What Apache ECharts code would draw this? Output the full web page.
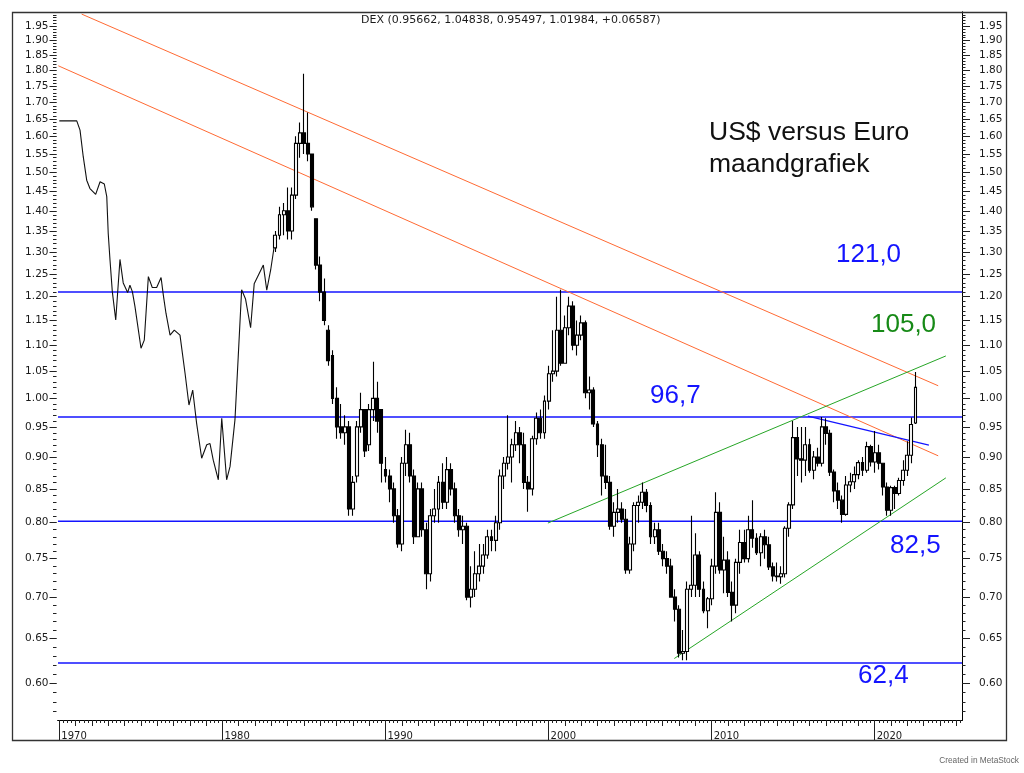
<!DOCTYPE html>
<html>
<head>
<meta charset="utf-8">
<title>DEX kwartaal</title>
<script src="https://cdn.jsdelivr.net/npm/echarts@6/dist/echarts.min.js"></script>
<style>
  html, body { margin: 0; padding: 0; background: #fff; }
  #chart { width: 1024px; height: 773px; }
</style>
</head>
<body>
<div id="chart"></div>
<script>
(function () {
  var myChart = echarts.init(document.getElementById("chart"));

  // slotkoers-lijn tot 1983
  const lineYears = [
    1970.0, 1971.07, 1971.27, 1971.47, 1971.68, 1971.88, 1972.23, 1972.5, 1972.76, 1972.91,
    1973.0, 1973.11, 1973.25, 1973.46, 1973.72, 1973.92, 1974.19, 1974.33, 1974.48, 1974.64,
    1975.01, 1975.21, 1975.46, 1975.7, 1975.97, 1976.24, 1976.38, 1976.54, 1976.79, 1977.05,
    1977.4, 1977.71, 1977.95, 1978.18, 1978.42, 1978.73, 1979.04, 1979.24, 1979.44, 1979.75,
    1979.96, 1980.06, 1980.26, 1980.47, 1980.77, 1980.97, 1981.18, 1981.42, 1981.73, 1981.95,
    1982.51, 1982.72, 1982.96, 1983.16,
  ];
  const lineValues = [
    1.645, 1.645, 1.618, 1.542, 1.479, 1.457, 1.442, 1.475, 1.469, 1.436,
    1.344, 1.281, 1.211, 1.151, 1.283, 1.23, 1.209, 1.225, 1.211, 1.179,
    1.094, 1.11, 1.244, 1.22, 1.22, 1.242, 1.203, 1.165, 1.12, 1.13,
    1.12, 1.046, 0.988, 1.015, 0.956, 0.898, 0.92, 0.922, 0.895, 0.864,
    0.965, 0.965, 0.864, 0.885, 0.962, 1.077, 1.215, 1.195, 1.135, 1.228,
    1.27, 1.214, 1.259, 1.309,
  ];

  // kwartaalcandles vanaf 1983 Q2: [open, close, low, high]
  const candleStart = 1983.25;
  const candles = [
    [1.31,1.34,1.30,1.35],[1.34,1.39,1.33,1.41],[1.39,1.40,1.34,1.42],
    [1.40,1.35,1.33,1.46],[1.35,1.44,1.33,1.46],[1.44,1.58,1.43,1.60],[1.58,1.61,1.54,1.64],
    [1.61,1.58,1.55,1.79],[1.58,1.55,1.53,1.67],[1.55,1.41,1.40,1.55],[1.38,1.27,1.26,1.38],
    [1.27,1.21,1.19,1.29],[1.21,1.15,1.14,1.24],[1.13,1.07,1.06,1.14],[1.08,1.00,0.99,1.09],
    [1.00,0.95,0.93,1.02],[0.95,0.94,0.93,0.99],[0.94,0.95,0.92,0.97],[0.95,0.82,0.81,0.96],
    [0.82,0.86,0.81,0.87],[0.87,0.95,0.86,0.96],[0.95,0.98,0.94,1.01],[0.98,0.91,0.90,0.98],
    [0.92,0.98,0.91,0.99],[0.98,1.00,0.96,1.068],[1.00,0.96,0.94,1.03],[0.98,0.89,0.86,0.98],
    [0.88,0.87,0.86,0.90],[0.87,0.85,0.83,0.88],[0.85,0.81,0.80,0.86],[0.81,0.77,0.765,0.82],
    [0.77,0.89,0.76,0.90],[0.89,0.92,0.87,0.945],[0.92,0.87,0.86,0.94],[0.87,0.78,0.77,0.88],
    [0.78,0.85,0.78,0.86],[0.85,0.79,0.78,0.86],[0.79,0.73,0.71,0.80],[0.73,0.81,0.72,0.82],
    [0.81,0.82,0.80,0.85],[0.82,0.86,0.80,0.87],[0.86,0.83,0.82,0.89],[0.83,0.88,0.82,0.90],
    [0.88,0.85,0.84,0.89],[0.85,0.81,0.80,0.86],[0.81,0.79,0.78,0.82],[0.79,0.795,0.77,0.81],
    [0.795,0.70,0.696,0.80],[0.70,0.71,0.687,0.74],[0.71,0.73,0.70,0.76],[0.73,0.74,0.72,0.77],
    [0.74,0.755,0.73,0.77],[0.755,0.78,0.75,0.79],[0.78,0.775,0.76,0.79],[0.775,0.80,0.76,0.81],
    [0.80,0.87,0.79,0.88],[0.87,0.89,0.85,0.90],[0.89,0.90,0.88,0.97],[0.90,0.92,0.86,0.93],
    [0.92,0.94,0.91,0.96],[0.94,0.92,0.89,0.95],[0.92,0.86,0.85,0.94],[0.86,0.85,0.816,0.87],
    [0.85,0.93,0.84,0.935],[0.93,0.965,0.92,0.975],[0.965,0.94,0.93,0.98],[0.94,0.995,0.93,1.005],
    [0.995,1.045,0.98,1.06],[1.045,1.05,1.03,1.13],[1.05,1.13,1.04,1.20],[1.13,1.065,1.06,1.215],
    [1.065,1.135,1.065,1.16],[1.135,1.18,1.12,1.20],[1.18,1.10,1.09,1.19],[1.10,1.12,1.08,1.15],
    [1.12,1.145,1.11,1.16],[1.145,1.01,1.00,1.15],[1.01,1.015,0.98,1.04],[1.015,0.955,0.95,1.02],
    [0.955,0.92,0.90,0.96],[0.92,0.87,0.84,0.93],[0.87,0.86,0.85,0.92],[0.86,0.795,0.79,0.87],
    [0.795,0.815,0.78,0.83],[0.815,0.82,0.80,0.85],[0.82,0.805,0.80,0.83],[0.805,0.735,0.73,0.82],
    [0.735,0.77,0.73,0.78],[0.77,0.825,0.76,0.83],[0.825,0.83,0.80,0.84],[0.83,0.845,0.82,0.86],
    [0.845,0.825,0.815,0.85],[0.825,0.78,0.77,0.83],[0.78,0.79,0.77,0.80],[0.79,0.76,0.755,0.80],
    [0.76,0.75,0.74,0.77],[0.75,0.74,0.73,0.76],[0.74,0.70,0.70,0.75],[0.70,0.685,0.67,0.71],
    [0.685,0.633,0.628,0.69],[0.633,0.635,0.625,0.66],[0.635,0.71,0.625,0.72],[0.71,0.715,0.70,0.81],
    [0.715,0.755,0.70,0.785],[0.755,0.71,0.70,0.76],[0.71,0.683,0.68,0.72],[0.683,0.698,0.662,0.70],
    [0.698,0.74,0.69,0.75],[0.74,0.815,0.73,0.845],[0.815,0.735,0.73,0.83],[0.735,0.748,0.705,0.78],
    [0.748,0.706,0.70,0.76],[0.706,0.69,0.67,0.72],[0.69,0.745,0.68,0.75],[0.745,0.772,0.73,0.79],
    [0.772,0.75,0.745,0.79],[0.75,0.79,0.745,0.81],[0.79,0.778,0.765,0.833],[0.778,0.758,0.755,0.785],
    [0.758,0.78,0.74,0.785],[0.78,0.769,0.75,0.79],[0.769,0.739,0.735,0.78],[0.739,0.727,0.72,0.745],
    [0.727,0.726,0.72,0.745],[0.726,0.73,0.717,0.74],[0.73,0.792,0.725,0.795],[0.792,0.826,0.78,0.83],
    [0.826,0.932,0.82,0.96],[0.932,0.897,0.87,0.95],[0.897,0.895,0.86,0.95],[0.895,0.92,0.87,0.95],
    [0.92,0.879,0.875,0.93],[0.879,0.90,0.865,0.91],[0.90,0.89,0.885,0.915],[0.89,0.95,0.885,0.967],
    [0.95,0.939,0.92,0.965],[0.939,0.876,0.87,0.945],[0.876,0.847,0.83,0.88],[0.847,0.833,0.82,0.86],
    [0.833,0.812,0.80,0.84],[0.812,0.856,0.81,0.87],[0.856,0.861,0.845,0.875],[0.861,0.872,0.85,0.885],
    [0.872,0.891,0.865,0.895],[0.891,0.879,0.87,0.90],[0.879,0.917,0.875,0.925],[0.917,0.892,0.885,0.92],
    [0.892,0.907,0.875,0.943],[0.907,0.89,0.88,0.92],[0.89,0.853,0.84,0.89],[0.853,0.818,0.81,0.86],
    [0.818,0.852,0.81,0.855],[0.852,0.843,0.82,0.855],[0.843,0.863,0.84,0.867],[0.863,0.879,0.855,0.895],
    [0.879,0.903,0.87,0.926],[0.903,0.954,0.89,0.966],[0.95662,1.01984,0.95497,1.04838],
  ];

  // horizontale niveaus
  const levels = [1.21, 0.967, 0.802, 0.622];

  // trendlijnen: [[jaar, koers], [jaar, koers]]
  const orangeLines = [
    [[1971.37, 1.9925], [2023.89, 1.0228]],
    [[1969.94, 1.816], [2023.89, 0.902]],
  ];
  const greenLines = [
    [[1999.96, 0.7995], [2024.36, 1.079]],
    [[2007.71, 0.627], [2024.36, 0.867]],
  ];
  const blueTrend = [[2015.9, 0.9687], [2023.32, 0.9196]];

  // as-labels
  const yMajor = [0.60, 0.65, 0.70, 0.75, 0.80, 0.85, 0.90, 0.95, 1.00, 1.05, 1.10, 1.15,
    1.20, 1.25, 1.30, 1.35, 1.40, 1.45, 1.50, 1.55, 1.60, 1.65, 1.70, 1.75, 1.80, 1.85, 1.90, 1.95];
  const xDecades = [1970, 1980, 1990, 2000, 2010, 2020];

  const xMin = 1969.92;
  const xMax = 2025.35;
  const yMin = 0.5615;
  const yMax = 2.0;

  const yMinor = [];
  for (let i = 57; i <= 199; i++) yMinor.push(i / 100);
  const xYears = [];
  for (let y = 1970; y <= 2025; y++) xYears.push(y);
  const xQuarters = [];
  for (let q = 1970 * 4; q <= 2025 * 4 + 1; q++) xQuarters.push(q / 4);

  const smallFont = "DejaVu Sans";
  const bigFont = "Liberation Sans, Arial, sans-serif";
  const levelBlue = "#1414ff";
  const orange = "#ff6a33";
  const green = "#26a626";

  function yAxisDef(pos, ticks, len, labels, margin, showLine) {
    return {
      type: "log",
      logBase: 10,
      min: yMin,
      max: yMax,
      position: pos,
      offset: pos === "left" ? 1.5 : 0,
      splitLine: { show: false },
      axisLine: { show: showLine, lineStyle: { color: "#000", width: 1 } },
      axisTick: {
        show: true,
        customValues: ticks,
        length: len,
        lineStyle: { color: "#222", width: 1 },
      },
      axisLabel: {
        show: !!labels,
        customValues: labels || undefined,
        margin: margin,
        fontFamily: smallFont,
        fontSize: 10.5,
        color: "#1a1a1a",
        formatter: (v) => v.toFixed(2),
      },
    };
  }

  function xAxisDef(ticks, len, labels) {
    return {
      type: "value",
      min: xMin,
      max: xMax,
      position: "bottom",
      splitLine: { show: false },
      axisLine: { show: true, onZero: false, lineStyle: { color: "#000", width: 1 } },
      axisTick: {
        show: true,
        customValues: ticks,
        length: len,
        lineStyle: { color: "#222", width: 1 },
      },
      axisLabel: {
        show: !!labels,
        customValues: labels || undefined,
        margin: 11,
        align: "left",
        padding: [0, 0, 0, 2],
        fontFamily: smallFont,
        fontSize: 10,
        color: "#1a1a1a",
        formatter: (v) => String(Math.round(v)),
      },
    };
  }

  const candleData = candles.map((c, i) => [candleStart + i * 0.25, c[0], c[1], c[2], c[3]]);
  const lineData = lineYears.map((y, i) => [y, lineValues[i]]);

  const series = [];
  levels.forEach((v) => {
    series.push({
      type: "line",
      data: [[xMin, v], [xMax, v]],
      showSymbol: false,
      silent: true,
      lineStyle: { color: levelBlue, width: 1.5 },
      z: 2,
    });
  });
  orangeLines.forEach((l) => {
    series.push({
      type: "line",
      data: l,
      showSymbol: false,
      silent: true,
      lineStyle: { color: orange, width: 1 },
      z: 3,
    });
  });
  greenLines.forEach((l) => {
    series.push({
      type: "line",
      data: l,
      showSymbol: false,
      silent: true,
      lineStyle: { color: green, width: 1 },
      z: 3,
    });
  });
  series.push({
    type: "line",
    data: blueTrend,
    showSymbol: false,
    silent: true,
    lineStyle: { color: levelBlue, width: 1.2 },
    z: 3,
  });
  series.push({
    type: "line",
    data: lineData,
    showSymbol: false,
    lineStyle: { color: "#111", width: 1.1 },
    z: 4,
  });
  series.push({
    type: "candlestick",
    data: candleData,
    encode: { x: 0, y: [1, 2, 3, 4] },
    barWidth: 3.4,
    itemStyle: {
      color: "#fff",
      color0: "#000",
      borderColor: "#000",
      borderColor0: "#000",
      borderWidth: 1.1,
    },
    z: 5,
  });

  function label(text, x, yMid, color, size) {
    return {
      type: "text",
      x: x,
      y: yMid,
      silent: true,
      style: {
        text: text,
        fill: color,
        font: size + "px " + bigFont,
        textAlign: "left",
        textVerticalAlign: "middle",
      },
    };
  }

  option = {
    backgroundColor: "#fff",
    animation: false,
    title: {
      text: "DEX (0.95662, 1.04838, 0.95497, 1.01984, +0.06587)",
      left: 361,
      top: 15,
      padding: 0,
      textStyle: { fontFamily: smallFont, fontSize: 11, fontWeight: "normal", color: "#1a1a1a" },
    },
    grid: { left: 58, right: 62, top: 12, bottom: 53 },
    xAxis: [
      xAxisDef(xDecades, 20, xDecades),
      xAxisDef(xYears, 6, null),
      xAxisDef(xQuarters, 3, null),
    ],
    yAxis: [
      yAxisDef("left", yMajor, 7, yMajor, 8, false),
      yAxisDef("left", yMinor, 3.5, null, 8, false),
      yAxisDef("right", yMajor, 8, yMajor, 17, true),
      yAxisDef("right", yMinor, 3.5, null, 17, true),
    ],
    graphic: [
      {
        type: "rect",
        silent: true,
        shape: { x: 12.5, y: 12.5, width: 994, height: 728 },
        style: { fill: null, stroke: "#333", lineWidth: 1.3 },
        z: 10,
      },
      label("US$ versus Euro", 709, 133, "#111", 26.5),
      label("maandgrafiek", 709, 164.5, "#111", 26.5),
      label("121,0", 836, 255, levelBlue, 26),
      label("105,0", 871, 324.5, "#178a17", 26),
      label("96,7", 650, 396, levelBlue, 26),
      label("82,5", 890, 546, levelBlue, 26),
      label("62,4", 858, 676, levelBlue, 26),
      {
        type: "text",
        x: 1019,
        y: 761,
        silent: true,
        style: {
          text: "Created in MetaStock",
          fill: "#666",
          font: "8.3px " + bigFont,
          textAlign: "right",
          textVerticalAlign: "middle",
        },
      },
    ],
    series: series,
  };

  myChart.setOption(option, true);

  window.onresize = function () {
    myChart.resize();
  };
})();
</script>
</body>
</html>
